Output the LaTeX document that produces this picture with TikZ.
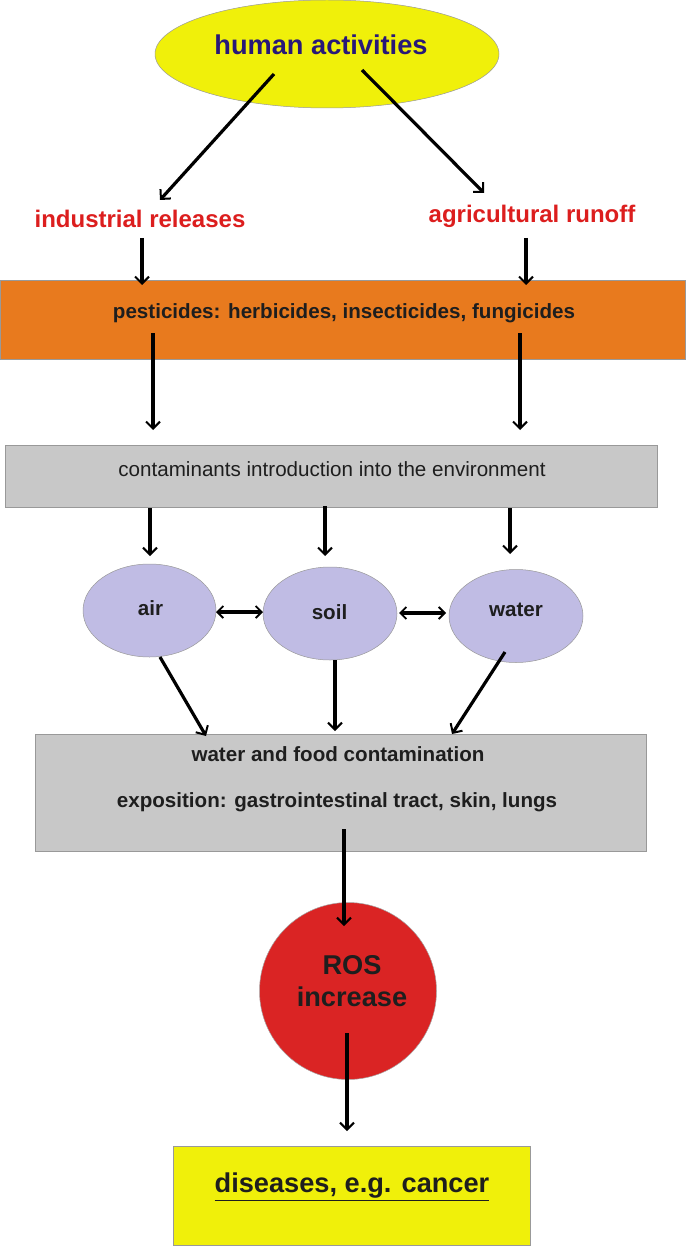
\documentclass[tikz,border=0pt]{standalone}
\usepackage{fontspec}
\setmainfont{Liberation Sans}
\usetikzlibrary{shapes.geometric,arrows.meta}
\definecolor{yel}{RGB}{240,240,10}
\definecolor{orng}{RGB}{232,122,30}
\definecolor{gry}{RGB}{200,200,200}
\definecolor{lav}{RGB}{192,188,228}
\definecolor{redc}{RGB}{218,36,36}
\definecolor{redt}{RGB}{220,30,30}
\definecolor{indig}{RGB}{40,24,120}
\definecolor{txt}{RGB}{30,30,30}
\tikzset{
  arr/.style={line width=3.2pt,-{Straight Barb[length=7pt,width=14pt,line width=2pt]}},
  darr/.style={line width=3.2pt,{Straight Barb[length=6pt,width=12pt,line width=1.8pt]}-{Straight Barb[length=6pt,width=12pt,line width=1.8pt]}},
  bar/.style={draw=gray!80,line width=0.5pt,rectangle,inner sep=0pt},
  oval/.style={draw=gray!80,line width=0.5pt,ellipse,inner sep=0pt},
  lbl/.style={font=\bfseries\fontsize{24}{28}\selectfont,text=redt},
  boxtxt/.style={font=\bfseries\fontsize{20.6}{24}\selectfont,text=txt},
  ovtxt/.style={font=\bfseries\fontsize{20.6}{24}\selectfont,text=txt},
}
\begin{document}
\begin{tikzpicture}[x=1pt,y=-1pt]
\useasboundingbox (0,0) rectangle (685,1246);
% top ellipse
\node[oval,fill=yel,minimum width=344pt,minimum height=108pt] (ha) at (327,54) {};
\node[font=\bfseries\fontsize{27.2}{32}\selectfont,text=indig] (hat) at (321,45) {human activities};
\coordinate (ha1) at (274,74);
\coordinate (ha2) at (362,70);
\node[lbl] (ind) at (140,219) {industrial releases};
\node[lbl] (agr) at (532,216) {agricultural runoff};
\coordinate (indE) at (160,200);
\coordinate (agrE) at (484,193);
\draw[arr] (ha1) -- (indE);
\draw[arr] (ha2) -- (agrE);
% pesticides bar
\node[bar,fill=orng,minimum width=685pt,minimum height=79pt] (pest) at (342.5,319.5) {};
\node[boxtxt] (pestt) at (344,313) {pesticides: herbicides, insecticides, fungicides};
\coordinate (ind2) at (142,238);
\coordinate (agr2) at (526,238);
\coordinate (pt1) at (142,285);
\coordinate (pt2) at (526,285);
\draw[arr] (ind2) -- (pt1);
\draw[arr] (agr2) -- (pt2);
% contaminants bar
\node[bar,fill=gry,minimum width=652pt,minimum height=62pt] (cont) at (331,476) {};
\node[font=\fontsize{20.6}{24}\selectfont,text=txt] (contt) at (332,469) {contaminants introduction into the environment};
\coordinate (ps1) at (153,333);
\coordinate (ps2) at (520,333);
\coordinate (ce1) at (153,430);
\coordinate (ce2) at (520,430);
\draw[arr] (ps1) -- (ce1);
\draw[arr] (ps2) -- (ce2);
% ellipses
\node[oval,fill=lav,minimum width=133pt,minimum height=93pt] (air) at (149.5,610.5) {};
\node[oval,fill=lav,minimum width=134pt,minimum height=93pt] (soil) at (330,613.5) {};
\node[oval,fill=lav,minimum width=134pt,minimum height=93pt] (water) at (516,616) {};
\node[ovtxt] (airt) at (150.5,608) {air};
\node[ovtxt] (soilt) at (329.5,612) {soil};
\node[ovtxt] (watert) at (516,610) {water};
\coordinate (c1) at (150,508);
\coordinate (c2) at (325,506);
\coordinate (c3) at (510,508);
\coordinate (a1) at (150,556);
\coordinate (a2) at (325,556);
\coordinate (a3) at (510,554);
\draw[arr] (c1) -- (a1);
\draw[arr] (c2) -- (a2);
\draw[arr] (c3) -- (a3);
\coordinate (as1) at (216,612);
\coordinate (as2) at (263,612);
\coordinate (sw1) at (399,613);
\coordinate (sw2) at (446,613);
\draw[darr] (as1) -- (as2);
\draw[darr] (sw1) -- (sw2);
% water and food box
\node[bar,fill=gry,minimum width=611pt,minimum height=117pt] (wf) at (340.5,792.5) {};
\node[boxtxt] (wft) at (338,754) {water and food contamination};
\node[boxtxt] (ext) at (337,802) {exposition: gastrointestinal tract, skin, lungs};
\coordinate (ai) at (160,657);
\coordinate (so) at (335,660);
\coordinate (wa) at (505,652);
\coordinate (w1) at (206,736);
\coordinate (w2) at (335,731);
\coordinate (w3) at (452,734);
\draw[arr] (ai) -- (w1);
\draw[arr] (so) -- (w2);
\draw[arr] (wa) -- (w3);
% ROS circle
\node[draw=gray!70,line width=0.5pt,circle,fill=redc,minimum size=177pt,inner sep=0pt] (ros) at (348,991) {};
\node[font=\bfseries\fontsize{27.2}{32}\selectfont,text=txt,align=center] (rost) at (352,981) {ROS\\increase};
\coordinate (e1) at (344,829);
\coordinate (r1) at (344,926);
\draw[arr] (e1) -- (r1);
% diseases box
\node[bar,fill=yel,minimum width=357pt,minimum height=99pt] (dis) at (351.5,1196) {};
\node[font=\bfseries\fontsize{27.2}{32}\selectfont,text=txt] (dist) at (352,1187) {\underline{diseases, e.g. cancer}};
\coordinate (r2) at (347,1033);
\coordinate (d1) at (347,1131);
\draw[arr] (r2) -- (d1);
\end{tikzpicture}
\end{document}
